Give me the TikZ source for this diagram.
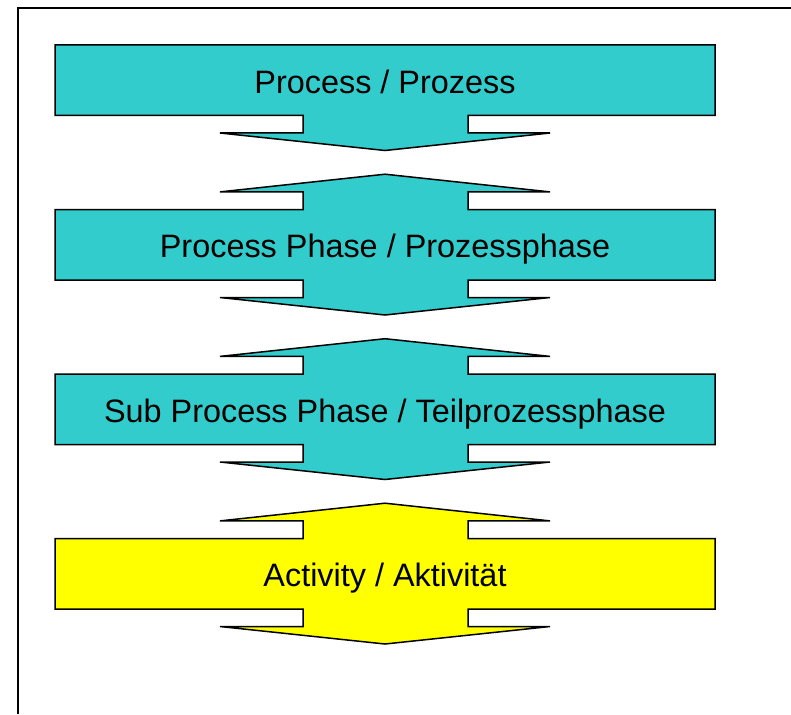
\documentclass[tikz,border=0pt]{standalone}
\usepackage{fontspec}
\setmainfont{Liberation Sans}
\definecolor{blockteal}{RGB}{51,204,204}
\definecolor{blockyellow}{RGB}{255,255,0}
\tikzset{
  blockline/.style={draw=black, line width=1.5pt, line join=miter},
  blocktext/.style={font=\fontsize{32.4}{38}\selectfont, text=black, inner sep=0pt, anchor=base},
  framestyle/.style={draw=black, line width=2pt}
}
\begin{document}
\begin{tikzpicture}[x=1pt,y=-1pt]
\useasboundingbox (0,0) rectangle (791,714);
\draw[framestyle] (18,714) -- (18,8) -- (791,8);
% block 1
\begin{scope}[shift={(0,45)}]
\draw[blockline, fill=blockteal] (55,0) -- (715,0) -- (715,70.5) -- (468,70.5) -- (468,88) -- (550,88) -- (385,105.5) -- (220,88) -- (303,88) -- (303,70.5) -- (55,70.5) -- cycle;
\node[blocktext] (b1) at (385,48.3) {Process / Prozess};
\end{scope}
% blocks 2-4
\foreach \Y/\col/\txt/\nm in {209.5/blockteal/{Process Phase / Prozessphase}/b2, 374/blockteal/{Sub Process Phase / Teilprozessphase}/b3, 538.5/blockyellow/{Activity / Aktivität}/b4}{
\begin{scope}[shift={(0,\Y)}]
\draw[blockline, fill=\col] (385,-35.3) -- (550,-17.6) -- (468,-17.6) -- (468,0) -- (715,0) -- (715,70.5) -- (468,70.5) -- (468,88) -- (550,88) -- (385,105.5) -- (220,88) -- (303,88) -- (303,70.5) -- (55,70.5) -- (55,0) -- (303,0) -- (303,-17.6) -- (220,-17.6) -- cycle;
\node[blocktext] (\nm) at (385,48.3) {\txt};
\end{scope}
}
\end{tikzpicture}
\end{document}
